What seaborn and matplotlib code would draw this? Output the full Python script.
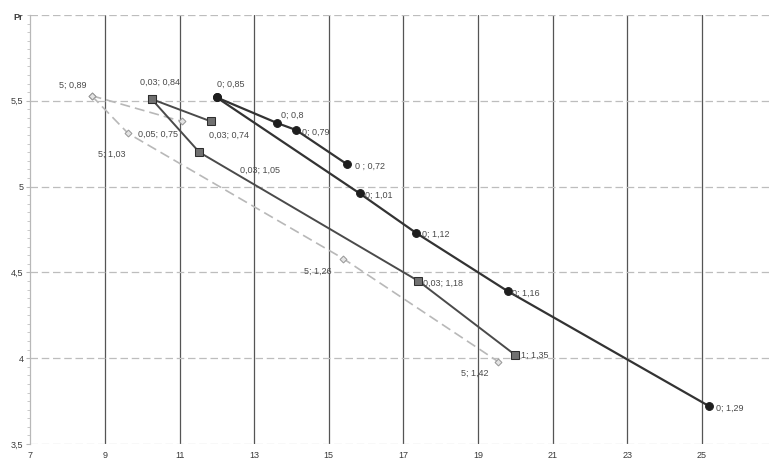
import numpy as np
import pandas as pd
import matplotlib
matplotlib.use("Agg")
import matplotlib.pyplot as plt
import seaborn as sns
from matplotlib.ticker import MultipleLocator, FuncFormatter

# Series 0: upper (decreasing) and lower (increasing) branches
c_up_x = [11.99, 13.62, 14.12, 15.49]
c_up_y = [5.52, 5.37, 5.33, 5.13]
c_up_lab = ["0; 0,85", "0; 0,8", "0; 0,79", "0 ; 0,72"]
c_lo_x = [11.99, 15.83, 17.34, 19.80, 25.20]
c_lo_y = [5.52, 4.96, 4.73, 4.39, 3.72]
c_lo_lab = [None, "0; 1,01", "0; 1,12", "0; 1,16", "0; 1,29"]

# Series 0,03
s_up_x = [10.25, 11.84]
s_up_y = [5.51, 5.38]
s_up_lab = ["0,03; 0,84", "0,03; 0,74"]
s_lo_x = [10.25, 11.53, 17.40, 19.99]
s_lo_y = [5.51, 5.20, 4.45, 4.02]
s_lo_lab = [None, "0,03; 1,05", "0,03; 1,18", "1; 1,35"]

# Series 0,05
g_up_x = [8.64, 11.06]
g_up_y = [5.53, 5.38]
g_up_lab = ["5; 0,89", "0,05; 0,75"]
g_lo_x = [8.64, 9.62, 15.39, 19.54]
g_lo_y = [5.53, 5.31, 4.58, 3.98]
g_lo_lab = [None, "5; 1,03", "5; 1,26", "5; 1,42"]

x_ticks = [7, 9, 11, 13, 15, 17, 19, 21, 23, 25]
y_ticks = [3.5, 4.0, 4.5, 5.0, 5.5]

sns.set_theme(style="white")
plt.rcParams["font.family"] = ["Liberation Sans", "DejaVu Sans"]

W, H = 769, 461
fig = plt.figure(figsize=(W / 100, H / 100), dpi=100)
x0_px, x_unit = 30.4, 37.3
y_top_px, y_bot_px = 15.0, 444.0
xmax = 7 + (W - x0_px) / x_unit
ax = fig.add_axes([x0_px / W, 1 - y_bot_px / H, (W - x0_px) / W, (y_bot_px - y_top_px) / H])
ax.set_xlim(7, xmax)
ax.set_ylim(3.5, 6.0)

# grid: dark verticals, light dashed horizontals
for xv in x_ticks[1:]:
    ax.axvline(xv, color="#555555", lw=0.9, zorder=1)
for yv in y_ticks[1:] + [6.0]:
    ax.axhline(yv, color="#bdbdbd", lw=0.9, ls=(0, (6, 3)), zorder=1)
ax.axhline(3.5, color="#c8c8c8", lw=0.9, ls=(0, (6, 3)), zorder=1)

for s in ["top", "right", "bottom"]:
    ax.spines[s].set_visible(False)
ax.spines["left"].set_color("#b8b8b8")
ax.spines["left"].set_linewidth(0.9)

def branch(xs, ys, **kw):
    df = pd.DataFrame({"x": xs, "y": ys})
    sns.lineplot(data=df, x="x", y="y", sort=False, estimator=None, ax=ax, **kw)

branch(g_up_x, g_up_y, color="#b8b8b8", lw=1.2, linestyle=(0, (6, 3)),
       marker="D", markersize=3.5, markerfacecolor="#e4e4e4", markeredgecolor="#9a9a9a", zorder=3)
branch(g_lo_x, g_lo_y, color="#b8b8b8", lw=1.2, linestyle=(0, (6, 3)),
       marker="D", markersize=3.5, markerfacecolor="#e4e4e4", markeredgecolor="#9a9a9a", zorder=3)
branch(s_up_x, s_up_y, color="#4a4a4a", lw=1.4, marker="s", markersize=5.2,
       markerfacecolor="#707070", markeredgecolor="#2e2e2e", zorder=4)
branch(s_lo_x, s_lo_y, color="#4a4a4a", lw=1.4, marker="s", markersize=5.2,
       markerfacecolor="#707070", markeredgecolor="#2e2e2e", zorder=4)
branch(c_up_x, c_up_y, color="#333333", lw=1.6, marker="o", markersize=5.6,
       markerfacecolor="#1e1e1e", markeredgecolor="#1e1e1e", zorder=5)
branch(c_lo_x, c_lo_y, color="#333333", lw=1.6, marker="o", markersize=5.6,
       markerfacecolor="#1e1e1e", markeredgecolor="#1e1e1e", zorder=5)

# label offsets in pixels (dx, dy) and alignment
offsets = {
    "0; 0,85": (0, 13, "left"), "0; 0,8": (4, 8, "left"), "0; 0,79": (6, -2, "left"),
    "0 ; 0,72": (8, -2, "left"), "0; 1,01": (5, -2, "left"), "0; 1,12": (6, -1, "left"),
    "0; 1,16": (4, -2, "left"), "0; 1,29": (7, -2, "left"),
    "0,03; 0,84": (-12, 17, "left"), "0,03; 0,74": (-2, -14, "left"),
    "0,03; 1,05": (41, -18, "left"), "0,03; 1,18": (5, -2, "left"), "1; 1,35": (6, -1, "left"),
    "5; 0,89": (-5, 10, "right"), "0,05; 0,75": (-4, -13, "right"),
    "5; 1,03": (-3, -21, "right"), "5; 1,26": (-12, -13, "right"), "5; 1,42": (-10, -12, "right"),
}
for xs, ys, labs in [(c_up_x, c_up_y, c_up_lab), (c_lo_x, c_lo_y, c_lo_lab),
                     (s_up_x, s_up_y, s_up_lab), (s_lo_x, s_lo_y, s_lo_lab),
                     (g_up_x, g_up_y, g_up_lab), (g_lo_x, g_lo_y, g_lo_lab)]:
    for xv, yv, lab in zip(xs, ys, labs):
        if lab is None:
            continue
        dx, dy, ha = offsets[lab]
        ax.annotate(lab, (xv, yv), xytext=(dx, dy), textcoords="offset pixels",
                    ha=ha, va="center", fontsize=6.5, color="#4a4a4a", zorder=6)

ax.set_xticks(x_ticks)
ax.set_yticks(y_ticks)
ax.yaxis.set_minor_locator(MultipleLocator(0.05))
fmt = FuncFormatter(lambda v, p: (f"{v:g}").replace(".", ","))
ax.xaxis.set_major_formatter(fmt)
ax.yaxis.set_major_formatter(fmt)
ax.tick_params(axis="x", which="major", length=4, width=0.9, color="#555555", direction="out",
               pad=1, labelsize=6.5, labelcolor="#3a3a3a")
ax.tick_params(axis="y", which="major", length=3, width=0.8, color="#b8b8b8", direction="out",
               pad=2, labelsize=6.5, labelcolor="#3a3a3a", left=True)
ax.tick_params(axis="y", which="minor", length=2, width=0.6, color="#c0c0c0", left=True)
ax.set_xlabel("")
ax.set_ylabel("")

fig.text(18 / W, 1 - 17 / H, "Pr", fontsize=6.5, fontweight="bold", color="#3a3a3a",
         ha="center", va="center")

fig.savefig("out.png", dpi=100)
